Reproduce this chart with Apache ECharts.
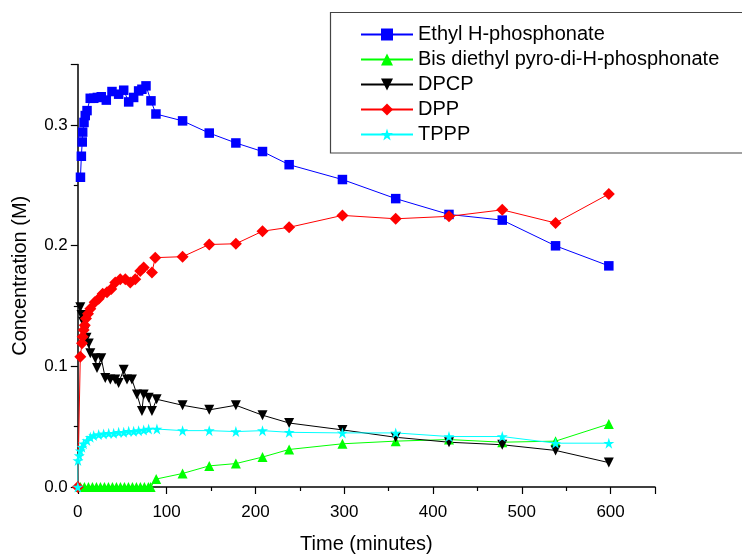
<!DOCTYPE html>
<html>
<head>
<meta charset="utf-8">
<script src="https://cdn.jsdelivr.net/npm/echarts@6/dist/echarts.min.js"></script>
<style>html,body{margin:0;padding:0;background:#fff;}#c{width:742px;height:559px;}</style>
</head>
<body>
<div id="c"></div>
<script>
// Ethyl H-phosphonate
const tEthyl = [3, 4, 5, 5.5, 7, 8.4, 10.4, 14, 18, 22, 26.4, 32.1, 38.5, 46, 51.7, 57.3, 62.9, 68.5, 72.2, 76.8, 82.4, 88, 118, 148, 178, 208, 238, 298, 358, 418, 478, 538, 598];
const vEthyl = [0.2566, 0.274, 0.2858, 0.294, 0.302, 0.3077, 0.3118, 0.322, 0.322, 0.3227, 0.3233, 0.3205, 0.3276, 0.3254, 0.3287, 0.319, 0.3227, 0.3281, 0.3295, 0.3323, 0.3199, 0.309, 0.3033, 0.2932, 0.285, 0.2779, 0.267, 0.2547, 0.2389, 0.2258, 0.2211, 0.1998, 0.1832];
// Bis diethyl pyro-di-H-phosphonate
const tBis = [3, 7.5, 12, 16.5, 21, 25.5, 30, 34.5, 39, 43.5, 48, 52.5, 57, 61.5, 66, 70.5, 75, 79.5, 82, 88.3, 118, 148, 178, 208, 238, 298, 358, 418, 478, 538, 598];
const vBis = [0, 0, 0, 0, 0, 0, 0, 0, 0, 0, 0, 0, 0, 0, 0, 0, 0, 0, 0, 0.0066, 0.0112, 0.0175, 0.0194, 0.0248, 0.0311, 0.0358, 0.038, 0.0393, 0.0371, 0.038, 0.0522];
// DPCP
const tDPCP = [2.8, 4.2, 5.9, 8.1, 9.8, 12.3, 14.1, 19.7, 21.6, 26.4, 30.9, 36.6, 42.2, 46, 51.7, 55.4, 61, 66.6, 72.2, 74.2, 79.8, 83.5, 88.8, 118, 148, 178, 208, 238, 298, 358, 418, 478, 538, 598];
const vDPCP = [0.149, 0.1425, 0.1368, 0.13, 0.1237, 0.1188, 0.1108, 0.1067, 0.0985, 0.1067, 0.0903, 0.089, 0.089, 0.0862, 0.0972, 0.089, 0.089, 0.0767, 0.063, 0.0767, 0.074, 0.063, 0.0727, 0.0677, 0.0639, 0.0677, 0.0595, 0.053, 0.0473, 0.0412, 0.0371, 0.035, 0.0303, 0.0202];
// DPP
const tDPP = [0, 2.8, 4.7, 5.5, 6.6, 7.8, 9.2, 11.5, 14.1, 19, 23.5, 28, 32.9, 37.7, 42.2, 47.8, 53.5, 59.1, 64.7, 70.3, 74.2, 83.5, 87.2, 118, 148, 178, 208, 238, 298, 358, 418, 478, 538, 598];
const vDPP = [0, 0.108, 0.119, 0.1245, 0.13, 0.134, 0.1395, 0.1436, 0.1477, 0.153, 0.156, 0.16, 0.1613, 0.164, 0.1695, 0.1722, 0.1722, 0.1695, 0.1722, 0.179, 0.1818, 0.1777, 0.19, 0.1908, 0.2009, 0.2015, 0.2119, 0.2151, 0.225, 0.2222, 0.2242, 0.2296, 0.2187, 0.2427];
// TPPP
const tTPPP = [0, 0.2, 1.7, 2.8, 4.7, 6.6, 10.4, 14.1, 17.9, 23.5, 29.1, 34.8, 40.4, 46, 51.7, 57.3, 62.9, 68.5, 74.2, 79.8, 89.1, 118, 148, 178, 208, 238, 298, 358, 418, 478, 538, 598];
const vTPPP = [0, 0.022, 0.026, 0.03, 0.033, 0.0358, 0.0385, 0.0412, 0.0426, 0.0434, 0.044, 0.0445, 0.0445, 0.0453, 0.0453, 0.0461, 0.0461, 0.0467, 0.0472, 0.048, 0.048, 0.0467, 0.0467, 0.0459, 0.0467, 0.0453, 0.0448, 0.0448, 0.0418, 0.0418, 0.0363, 0.0363];

const names = ['Ethyl H-phosphonate', 'Bis diethyl pyro-di-H-phosphonate', 'DPCP', 'DPP', 'TPPP'];
const xTicks = [0, 100, 200, 300, 400, 500, 600];
const yTicks = [0.0, 0.1, 0.2, 0.3];

const pair = (t, v) => t.map((x, i) => [x, v[i]]);
const STAR = 'path://M100,0 L122.34,69.26 L195.1,69.1 L136.14,111.74 L158.78,180.9 L100,138 L41.22,180.9 L63.86,111.74 L4.9,69.1 L77.66,69.26 Z';
const FONT = 'Arial, "Liberation Sans", sans-serif';

function mk(name, data, color, symbol, size, rotate) {
  return {
    name: name, type: 'line', data: data,
    symbol: symbol, symbolSize: size, symbolRotate: rotate || 0,
    showAllSymbol: true,
    lineStyle: { color: color, width: 1 },
    itemStyle: { color: color, borderWidth: 0 },
    emphasis: { disabled: true },
    animation: false, z: 3
  };
}

const chart = echarts.init(document.getElementById('c'), null, { renderer: 'canvas' });
chart.setOption({
  backgroundColor: '#fff',
  animation: false,
  grid: { left: 77.8, right: 87, top: 64.5, bottom: 67, containLabel: false },
  xAxis: {
    type: 'value', min: 0, max: 650, interval: 100,
    name: 'Time (minutes)', nameLocation: 'middle', nameGap: 47,
    nameTextStyle: { fontFamily: FONT, fontSize: 20, color: '#000' },
    axisLine: { show: true, onZero: false, lineStyle: { color: '#000', width: 1.5 } },
    axisTick: { show: true, inside: false, length: 7, lineStyle: { color: '#000', width: 1.2 } },
    minorTick: { show: true, splitNumber: 2, length: 4, lineStyle: { color: '#000', width: 1.2 } },
    axisLabel: { fontFamily: FONT, fontSize: 17, color: '#000', margin: 17, showMaxLabel: false,
      formatter: v => (xTicks.indexOf(v) >= 0 ? String(v) : '') },
    splitLine: { show: false }
  },
  yAxis: {
    type: 'value', min: 0, max: 0.35, interval: 0.1,
    name: 'Concentration (M)', nameLocation: 'middle', nameGap: 47, nameRotate: 90,
    nameTextStyle: { fontFamily: FONT, fontSize: 20, color: '#000' },
    axisLine: { show: true, onZero: false, lineStyle: { color: '#000', width: 1.5 } },
    axisTick: { show: true, inside: false, length: 7, lineStyle: { color: '#000', width: 1.2 } },
    minorTick: { show: true, splitNumber: 2, length: 4, lineStyle: { color: '#000', width: 1.2 } },
    axisLabel: { fontFamily: FONT, fontSize: 17, color: '#000', margin: 10, showMaxLabel: false,
      formatter: v => { const r = Math.round(v * 10) / 10; return yTicks.indexOf(r) >= 0 ? r.toFixed(1) : ''; } },
    splitLine: { show: false }
  },
  legend: {
    orient: 'vertical', left: 355, top: 19,
    itemWidth: 52, itemHeight: 15, itemGap: 4,
    textStyle: { fontFamily: FONT, fontSize: 20, color: '#000', lineHeight: 21, padding: [0, 0, 0, 0] },
    data: names
  },
  graphic: [{
    type: 'rect', shape: { x: 330.5, y: 12.5, width: 500, height: 140.5 },
    style: { fill: 'none', stroke: '#444', lineWidth: 1.2 }, z: 10, silent: true
  }],
  series: [
    mk(names[0], pair(tEthyl, vEthyl), '#0000FF', 'rect', 9.5),
    mk(names[1], pair(tBis, vBis), '#00FF00', 'triangle', 10),
    mk(names[2], pair(tDPCP, vDPCP), '#000000', 'triangle', 10, 180),
    mk(names[3], pair(tDPP, vDPP), '#FF0000', 'diamond', 12),
    mk(names[4], pair(tTPPP, vTPPP), '#00FFFF', STAR, 11)
  ]
});
</script>
</body>
</html>
